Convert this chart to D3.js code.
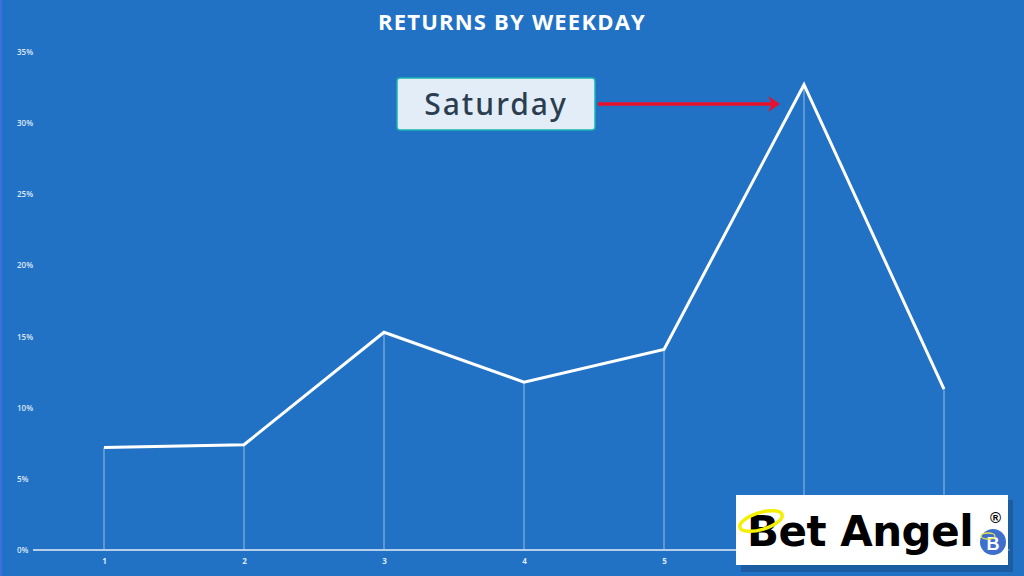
<!DOCTYPE html>
<html><head><meta charset="utf-8">
<script src="https://cdn.jsdelivr.net/npm/d3@7"></script>
<style>body{margin:0;background:#2172c4;overflow:hidden}</style>
</head><body>
<svg id="c" width="1024" height="576"></svg>
<script>
const categories = ["1","2","3","4","5","6","7"];
const returns = [7.2, 7.4, 15.3, 11.8, 14.1, 32.7, 11.3];
const yTicks = [0,5,10,15,20,25,30,35];
const title = "RETURNS BY WEEKDAY";
const annotation = {label:"Saturday", day:"6"};

const svg = d3.select("#c");
svg.append("rect").attr("width",1024).attr("height",576).attr("fill","#2172c4");
svg.append("rect").attr("x",0).attr("y",0).attr("width",2).attr("height",576).attr("fill","#3b6fe0");

const x = d3.scalePoint().domain(categories).range([104,944]);
const y = d3.scaleLinear().domain([0,35]).range([550,52]);

svg.append("text").attr("x",512).attr("y",30).attr("text-anchor","middle")
  .attr("fill","#fff").attr("font-family","Open Sans").attr("font-weight","bold")
  .attr("font-size",22).attr("letter-spacing",1.2).text(title);

// y labels
const ya = svg.append("g").attr("transform","translate(17,0)")
  .call(d3.axisLeft(y).tickValues(yTicks).tickSize(0).tickFormat(d=>d+"%"));
ya.select(".domain").remove();
ya.selectAll("text").attr("x",0).attr("text-anchor","start").attr("fill","#dce8f6")
  .attr("font-family","Open Sans").attr("font-size",8).attr("font-weight","600");

// baseline
svg.append("line").attr("x1",33).attr("x2",1010).attr("y1",y(0)).attr("y2",y(0))
  .attr("stroke","#e6eef8").attr("stroke-width",1.5);

// x labels
const xa = svg.append("g").attr("transform",`translate(0,${y(0)})`)
  .call(d3.axisBottom(x).tickSize(0).tickPadding(8));
xa.select(".domain").remove();
xa.selectAll("text").attr("fill","#dce8f6").attr("font-family","Open Sans").attr("font-size",8).attr("font-weight","bold");

// drop lines
svg.append("g").selectAll("line").data(returns).join("line")
  .attr("x1",(d,i)=>x(categories[i])).attr("x2",(d,i)=>x(categories[i]))
  .attr("y1",d=>y(d)).attr("y2",y(0))
  .attr("stroke","#c9dbf0").attr("stroke-opacity",0.7).attr("stroke-width",1);

// line
svg.append("path").datum(returns)
  .attr("d",d3.line().x((d,i)=>x(categories[i])).y(d=>y(d)))
  .attr("fill","none").attr("stroke","#ffffff").attr("stroke-width",3).attr("stroke-linejoin","miter");

// annotation
const ay = 104;
svg.append("rect").attr("x",397).attr("y",78).attr("width",198).attr("height",52).attr("rx",3)
  .attr("fill","#e3edf8").attr("stroke","#19b3b0").attr("stroke-width",1.5);
svg.append("text").attr("x",496).attr("y",ay+11).attr("text-anchor","middle")
  .attr("font-family","Noto Sans").attr("font-size",30).attr("font-weight","500").attr("letter-spacing",2)
  .attr("fill","#2b3e50").text(annotation.label);
svg.append("line").attr("x1",598).attr("x2",x(annotation.day)-30).attr("y1",ay).attr("y2",ay)
  .attr("stroke","#e8102a").attr("stroke-width",3.5);
svg.append("path").attr("d",`M${x(annotation.day)-24},${ay} L${x(annotation.day)-36},${ay-8} L${x(annotation.day)-32},${ay} L${x(annotation.day)-36},${ay+8} Z`)
  .attr("fill","#e8102a");

// logo
const lg = svg.append("g");
lg.append("rect").attr("x",741).attr("y",500).attr("width",272).attr("height",72).attr("fill","#174f8c").attr("opacity",0.6);
lg.append("rect").attr("x",736).attr("y",495).attr("width",272).attr("height",70).attr("fill","#fff");
lg.append("text").attr("x",747).attr("y",546).attr("font-family","DejaVu Sans").attr("font-weight","bold")
  .attr("font-size",42).attr("fill","#000").attr("letter-spacing",-0.5).text("Bet Angel");
lg.append("ellipse").attr("cx",761).attr("cy",521).attr("rx",22).attr("ry",8.5).attr("transform","rotate(-17 761 521)")
  .attr("fill","none").attr("stroke","#f4f000").attr("stroke-width",3.5);
lg.append("text").attr("x",990).attr("y",523).attr("font-family","Liberation Sans").attr("font-weight","bold")
  .attr("font-size",15).attr("fill","#000").text("®");
lg.append("circle").attr("cx",993).attr("cy",542).attr("r",13).attr("fill","#3f6fcc");
lg.append("text").attr("x",993).attr("y",550).attr("text-anchor","middle").attr("font-family","Liberation Sans").attr("font-weight","bold")
  .attr("font-size",18).attr("fill","#fff").text("B");
lg.append("ellipse").attr("cx",988).attr("cy",536).attr("rx",7).attr("ry",3).attr("fill","none").attr("stroke","#e8e04a").attr("stroke-width",1.3);
</script>
</body></html>
